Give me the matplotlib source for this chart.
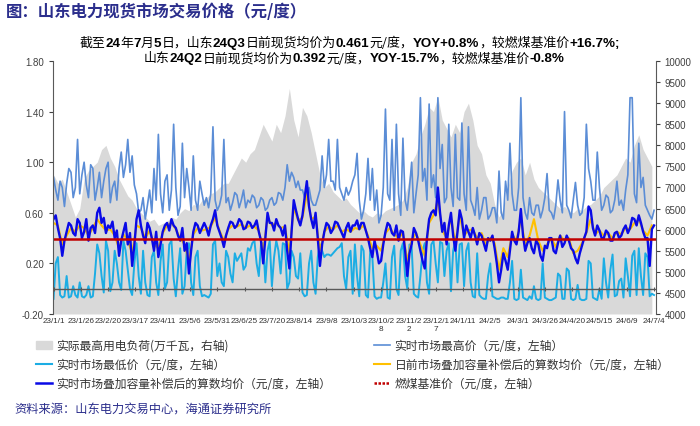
import matplotlib
matplotlib.use("Agg")
import matplotlib.pyplot as plt
import matplotlib.patches as mpatches
import numpy as np
import pandas as pd

plt.rcParams['font.family'] = ['Noto Sans CJK SC', 'DejaVu Sans']

start = pd.Timestamp('2023-01-01')
dates4 = pd.date_range(start, periods=138, freq='4D')   # load, day-ahead avg
dates2 = pd.date_range(start, periods=276, freq='2D')   # real-time prices

# actual peak load (10k kW, right axis), every 4 days
load = [7300, 7100, 7200, 6900, 6600, 6300, 6500, 7200, 7400, 7500, 7600, 7900, 8000, 7700, 7500,
        7200, 7000, 6800, 6700, 6500, 6400, 6300, 6200, 6250, 6100, 6150, 6200, 6300, 6250, 6400,
        6500, 6450, 6600, 6550, 6700,
        6750, 6850, 6900, 7000, 7100, 7100, 7300, 7500, 7700, 7600, 7800, 7900, 8200, 8500, 8300,
        8100, 8500, 8300, 8700, 9350, 8600, 8200, 8900, 8700, 8300, 7800, 7300, 7000, 7100, 6900,
        6800, 6700, 6750, 6600,
        6500, 6400, 6450, 6350, 6300, 6400, 6350, 6450, 6500, 6550, 6600, 6700, 7000, 7600, 7800,
        8200, 8500, 8900, 8800, 9150, 8600, 8400, 8200, 8500, 8300, 8800, 9000, 8600, 8000, 7800,
        7300, 7100, 6600, 6300, 6500,
        7000, 7400, 7600, 7700, 7300, 7600, 7200, 7000, 6900, 6800, 6700, 6600, 6500, 6550, 6450,
        6400, 6500, 6450, 6550, 6600, 6700, 6800, 7000, 7100, 7200, 7300, 7500, 7700, 7600, 8000,
        8250, 7900, 7700, 7500]

# day-ahead market avg incl. capacity compensation, every 4 days
da_avg = [0.52, 0.50, 0.35, 0.42, 0.48, 0.45, 0.50, 0.48, 0.42, 0.48, 0.55, 0.50, 0.46, 0.47, 0.42,
          0.32, 0.43, 0.38, 0.28, 0.50, 0.48, 0.40, 0.46, 0.35, 0.32, 0.44, 0.50, 0.52, 0.47, 0.40,
          0.35, 0.22, 0.43, 0.48, 0.46,
          0.47, 0.49, 0.56, 0.46, 0.38, 0.47, 0.50, 0.49, 0.51, 0.48, 0.50, 0.49, 0.46, 0.30, 0.56,
          0.50, 0.52, 0.48, 0.49, 0.28, 0.64, 0.54, 0.56, 0.75, 0.55, 0.57, 0.30, 0.45, 0.49, 0.47,
          0.50, 0.45, 0.47, 0.45,
          0.48, 0.47, 0.50, 0.42, 0.32, 0.34, 0.30, 0.44, 0.48, 0.43, 0.40, 0.44, 0.22, 0.38, 0.44,
          0.35, 0.26, 0.52, 0.58, 0.70, 0.46, 0.40, 0.56, 0.36, 0.58, 0.42, 0.46, 0.47, 0.40, 0.44,
          0.35, 0.40, 0.36, 0.15, 0.32,
          0.25, 0.43, 0.38, 0.55, 0.35, 0.42, 0.55, 0.38, 0.30, 0.35, 0.40, 0.33, 0.42, 0.38, 0.40,
          0.28, 0.30, 0.36, 0.44, 0.55, 0.43, 0.46, 0.42, 0.44, 0.40, 0.45, 0.43, 0.48, 0.47, 0.52,
          0.55, 0.46, 0.42, 0.50]

# real-time market highest price, every 2 days
rt_max = [0.88, 0.78, 0.70, 0.85, 0.80, 0.65, 0.83, 0.95, 0.92, 0.72, 0.80, 1.18, 0.75, 0.90,
          1.00, 0.82, 0.72, 0.98, 0.95, 0.70, 0.80, 0.92, 0.72, 0.85, 0.95, 1.00, 0.68, 0.80,
          0.85, 0.70, 0.95, 1.08, 0.88, 0.98, 1.18, 0.92, 1.05, 0.82, 0.75, 0.60, 0.62, 0.72,
          0.55, 0.66, 0.78, 0.60, 0.95, 0.70, 1.22, 0.75, 0.60, 0.85, 0.90, 0.62, 0.78, 1.30,
          0.80, 0.58, 0.65, 1.15, 0.72, 0.95, 0.80, 0.62, 1.05, 0.70, 0.62, 0.85, 0.75, 0.66,
          0.72, 0.64, 0.75, 1.28, 0.70, 0.62, 0.66, 0.74, 1.18, 0.68, 0.72, 0.62, 0.68, 0.76,
          0.74, 0.64, 0.70, 0.78, 0.64, 0.70, 0.68, 0.74, 0.72, 0.64, 0.66, 0.72, 0.70, 0.62,
          0.64, 0.70, 0.72, 0.66, 0.68, 0.76, 0.75, 0.70, 0.80, 0.98, 0.85, 0.92, 0.88, 0.80,
          0.85, 0.78, 0.78, 0.72, 0.75, 0.80, 0.70, 0.66, 0.66, 0.72, 0.78, 1.05, 0.80, 0.90,
          1.18, 0.85, 0.85, 0.78, 1.18, 0.80, 0.75, 0.70, 0.80, 0.74, 0.78, 0.85,
          0.90, 1.07, 0.70, 0.55, 0.62, 0.75, 1.03, 0.70, 0.95, 0.62, 0.78, 0.52, 0.58, 0.80,
          1.42, 0.75, 0.70, 1.18, 0.62, 1.30, 0.75, 0.58, 1.19, 0.70, 0.62, 0.80, 1.00, 0.60,
          0.75, 0.90, 1.51, 0.85, 0.95, 0.70, 1.46, 0.80, 0.90, 0.72, 1.51, 0.95, 1.14, 0.68,
          0.72, 1.30, 0.80, 0.65, 1.22, 0.72, 0.70, 1.31, 0.75, 0.62, 1.28, 0.70, 0.65, 0.58,
          0.80, 0.55, 0.62, 0.72, 0.72, 0.55, 0.58, 0.64, 0.64, 0.52, 0.93, 0.60, 0.55, 0.85,
          0.70, 1.15, 0.75, 0.62, 0.62, 0.80, 1.51, 0.72, 0.60, 0.55, 0.72, 0.60, 0.58, 0.66,
          0.66, 0.56, 0.62, 0.72, 0.91, 0.62, 0.60, 0.55, 0.66, 0.86, 0.70, 0.60, 1.40, 0.66,
          0.62, 0.56, 0.70, 0.84, 0.66, 0.58, 0.60, 0.72, 1.30, 0.95, 0.85, 0.70, 0.70, 1.08,
          0.80, 0.62, 0.66, 0.74, 0.72, 0.60, 0.62, 0.70, 0.85, 0.66, 0.70, 0.62, 0.78, 0.90,
          1.51, 1.51, 0.75, 0.68, 1.15, 0.80, 0.88, 0.66, 0.62, 0.58, 0.55, 0.62]

# real-time market lowest price, every 2 days
rt_min = [-0.08, 0.20, 0.25, -0.05, -0.07, -0.06, 0.10, -0.07, -0.06, 0.02, -0.05, -0.07, 0.05, -0.06,
          -0.07, -0.05, 0.02, -0.07, -0.06, 0.12, 0.35, 0.28, 0.10, -0.03, 0.38, 0.30, -0.02, 0.05,
          0.30, 0.20, 0.05, -0.01, 0.38, 0.30, 0.15, 0.00, -0.05, 0.20, 0.36, 0.10, -0.04, 0.30,
          0.05, -0.05, -0.06, 0.25, 0.30, 0.05, -0.05, 0.22, 0.35, 0.00, 0.05, 0.35, 0.38, 0.08,
          -0.06, 0.15, 0.32, -0.04, 0.02, 0.30, 0.36, 0.05, -0.05, 0.25, 0.30, 0.02, -0.06, -0.05,
          -0.06, -0.07, -0.04, 0.35, 0.38, 0.10, 0.20, 0.05, 0.02, 0.30, 0.25, 0.12, 0.05, 0.28,
          0.22, 0.25, 0.28, 0.15, 0.18, 0.32, 0.30, 0.36, 0.38, 0.20, 0.10, 0.35, 0.36, 0.05,
          0.30, 0.38, 0.02, 0.25, 0.38, 0.30, 0.12, 0.36, 0.35, 0.00, 0.05, 0.30, 0.25, 0.10,
          0.08, 0.28, -0.03, -0.06, -0.05, 0.20, 0.30, 0.05, -0.04, 0.25, 0.35, 0.30, 0.25, 0.27,
          0.27, 0.26, 0.28, 0.30, 0.32, 0.33, 0.36, 0.10, 0.00, 0.25, 0.30, -0.04,
          0.35, 0.10, -0.06, 0.34, 0.30, -0.05, -0.07, 0.30, 0.25, -0.06, -0.08, -0.07, -0.07, 0.05,
          0.20, -0.07, -0.08, 0.25, 0.34, 0.00, -0.05, 0.30, 0.36, 0.10, 0.00, 0.35, 0.33, -0.04,
          -0.06, -0.07, 0.10, 0.30, 0.36, 0.05, -0.04, 0.35, 0.38, 0.20, 0.05, 0.37, 0.36, 0.10,
          0.30, 0.36, -0.02, 0.30, 0.38, 0.05, 0.35, 0.36, 0.02, 0.30, 0.36, 0.05, -0.06, -0.07,
          0.28, -0.05, -0.07, -0.08, -0.08, 0.10, 0.20, -0.06, -0.07, -0.08, -0.08, -0.07, -0.07, -0.08,
          -0.08, 0.05, 0.22, -0.08, -0.09, -0.08, 0.15, -0.07, -0.08, -0.09, -0.06, -0.08, 0.02, -0.08,
          -0.09, -0.08, 0.20, -0.07, -0.08, -0.09, -0.09, -0.08, -0.07, 0.12, 0.10, -0.08, -0.08, 0.16,
          0.14, -0.08, -0.09, -0.08, 0.03, -0.08, -0.09, -0.09, -0.08, 0.22, 0.20, -0.07, -0.08, -0.09,
          0.00, -0.08, 0.24, 0.05, -0.07, 0.15, 0.27, -0.06, -0.05, 0.06, 0.08, -0.07, 0.24, 0.10,
          -0.06, 0.26, 0.30, -0.05, 0.32, 0.10, -0.05, 0.28, 0.25, -0.06, -0.04, -0.05]

# real-time market avg incl. capacity compensation, every 2 days
rt_avg = [0.55, 0.58, 0.48, 0.40, 0.26, 0.38, 0.45, 0.52, 0.50, 0.44, 0.42, 0.55, 0.52, 0.40,
          0.45, 0.55, 0.38, 0.48, 0.50, 0.44, 0.60, 0.64, 0.52, 0.56, 0.44, 0.50, 0.48, 0.53,
          0.40, 0.46, 0.26, 0.38, 0.45, 0.52, 0.35, 0.44, 0.18, 0.34, 0.55, 0.62, 0.50, 0.42,
          0.36, 0.52, 0.48, 0.40, 0.30, 0.45, 0.25, 0.35, 0.45, 0.50, 0.52, 0.46, 0.55, 0.50,
          0.48, 0.42, 0.38, 0.48, 0.30, 0.36, 0.12, 0.30, 0.45, 0.52, 0.50, 0.44, 0.48, 0.52,
          0.48, 0.42, 0.50, 0.55, 0.62, 0.50, 0.45, 0.40, 0.33, 0.42, 0.48, 0.53, 0.52, 0.48,
          0.50, 0.55, 0.53, 0.47, 0.48, 0.53, 0.52, 0.48, 0.50, 0.54, 0.45, 0.38, 0.20, 0.40,
          0.60, 0.52, 0.52, 0.46, 0.55, 0.50, 0.48, 0.42, 0.50, 0.30, 0.16, 0.45, 0.70, 0.62,
          0.55, 0.50, 0.58, 0.72, 0.85, 0.65, 0.55, 0.48, 0.60, 0.40, 0.18, 0.35, 0.45, 0.52,
          0.50, 0.44, 0.47, 0.53, 0.52, 0.48, 0.44, 0.40, 0.48, 0.52, 0.45, 0.50,
          0.50, 0.54, 0.47, 0.52, 0.52, 0.46, 0.40, 0.32, 0.25, 0.38, 0.30, 0.20, 0.22, 0.35,
          0.45, 0.52, 0.50, 0.44, 0.42, 0.50, 0.38, 0.46, 0.45, 0.30, 0.10, 0.28, 0.35, 0.48,
          0.44, 0.38, 0.30, 0.22, 0.16, 0.40, 0.55, 0.60, 0.62, 0.58, 0.80, 0.60, 0.45, 0.52,
          0.35, 0.50, 0.60, 0.42, 0.30, 0.45, 0.62, 0.55, 0.40, 0.50, 0.45, 0.40, 0.48, 0.42,
          0.35, 0.44, 0.42, 0.36, 0.30, 0.40, 0.38, 0.42, 0.32, 0.20, 0.05, 0.15, 0.28, 0.22,
          0.15, 0.30, 0.45, 0.38, 0.35, 0.45, 0.63, 0.42, 0.30, 0.36, 0.40, 0.32, 0.28, 0.38,
          0.35, 0.26, 0.22, 0.34, 0.32, 0.40, 0.40, 0.30, 0.28, 0.36, 0.42, 0.33, 0.36, 0.42,
          0.38, 0.32, 0.30, 0.24, 0.20, 0.28, 0.34, 0.40, 0.45, 0.65, 0.62, 0.48, 0.42, 0.50,
          0.46, 0.40, 0.40, 0.46, 0.44, 0.38, 0.38, 0.44, 0.45, 0.40, 0.42, 0.47, 0.50, 0.44,
          0.48, 0.56, 0.55, 0.50, 0.58, 0.52, 0.45, 0.40, 0.40, 0.18, 0.47, 0.50]

coal_base = 0.3949

x4 = np.array((dates4 - start).days)
x2 = np.array((dates2 - start).days)

fig = plt.figure(figsize=(7, 4.27), dpi=100)
ax = fig.add_axes([0.0757, 0.2623, 0.861, 0.5925])
ax2 = ax.twinx()
ax.set_zorder(ax2.get_zorder() + 1)
ax.patch.set_visible(False)

ax2.fill_between(x4, 4000, load, color='#D9D9D9', lw=0)
ax2.set_ylim(4000, 10000)
ax2.set_yticks(np.arange(4000, 10001, 500))

ax.plot(x2, rt_max, color='#5B8DD6', lw=1.2)
ax.plot(x2, rt_min, color='#1CADE4', lw=1.4)
ax.plot(x4, da_avg, color='#FFC000', lw=1.5)
ax.plot(x2, rt_avg, color='#0A0AE6', lw=1.7)
ax.axhline(coal_base, color='#C00000', lw=1.8)
ax.axhline(0, color='#595959', lw=1.0)

ax.set_ylim(-0.2, 1.8)
ax.set_yticks(np.arange(-0.2, 1.81, 0.4))
ax.yaxis.set_major_formatter(matplotlib.ticker.FormatStrFormatter('%.2f'))
ax.set_xlim(-0.5, 551.5)

# x labels every 25 days
tick_dates = pd.date_range('2023-01-01', '2024-07-04', freq='25D')
tick_pos = np.array((tick_dates - start).days)
labels = []
for d in tick_dates:
    s = f"{d.year % 100}/{d.month}/{d.day}"
    if len(s) > 7:
        s = s[:7] + "\n" + s[7:]
    labels.append(s)
ax.set_xticks(tick_pos)
ax.set_xticklabels(labels, fontsize=5.9, family='Liberation Sans', color='#333333', linespacing=1.15)
ax.tick_params(axis='x', length=0, pad=2)
ax.plot(tick_pos, np.zeros(len(tick_pos)), ls='none', marker='|', ms=3, color='#595959', mew=0.8)

for a in (ax, ax2):
    for s in ('top', 'bottom'):
        a.spines[s].set_visible(False)
ax.spines['right'].set_visible(False)
ax2.spines['left'].set_visible(False)
ax.spines['left'].set_color('#595959')
ax2.spines['right'].set_color('#595959')
ax.tick_params(axis='y', labelsize=7, colors='#404040', length=3, width=0.8)
ax2.tick_params(axis='y', labelsize=7, colors='#404040', length=3, width=0.8)
for lab in ax.get_yticklabels() + ax2.get_yticklabels():
    lab.set_family('Liberation Sans')

fig.text(0.008, 0.972, '图：山东电力现货市场交易价格（元/度）', fontsize=11.8, fontweight='bold',
         color='#2B2E8C', va='center')

# note lines: numbers bold, chinese regular
note1 = [('截至', 0), ('24', 1), ('年', 0), ('7', 1), ('月', 0), ('5', 1), ('日，山东', 0), ('24Q3', 1),
         ('日前现货均价为', 0), ('0.461', 1), ('元/度，', 0), ('YOY+0.8%', 1), ('，较燃煤基准价', 0),
         ('+16.7%;', 1)]
note2 = [('山东', 0), ('24Q2', 1), ('日前现货均价为', 0), ('0.392', 1), ('元/度，', 0), ('YOY-15.7%', 1),
         ('，较燃煤基准价', 0), ('-0.8%', 1)]


def rich_line(pieces, xc, y):
    r = fig.canvas.get_renderer()
    items = []
    for s, b in pieces:
        if b:
            t = fig.text(0, y, s, fontsize=9.6, fontweight='bold', va='center',
                         family=['Liberation Sans', 'Noto Sans CJK SC'])
        else:
            t = fig.text(0, y, s, fontsize=9.3, va='center', family=['Noto Sans CJK SC'])
        items.append((t, t.get_window_extent(r).width))
    total = sum(w for _, w in items)
    W = fig.bbox.width
    xpos = xc * W - total / 2
    for t, w in items:
        t.set_x(xpos / W)
        xpos += w


rich_line(note1, 0.500, 0.898)
rich_line(note2, 0.506, 0.862)

handles = [
    mpatches.Patch(color='#D9D9D9'),
    plt.Line2D([], [], color='#1CADE4', lw=1.5),
    plt.Line2D([], [], color='#0A0AE6', lw=1.8),
    plt.Line2D([], [], color='#5B8DD6', lw=1.2),
    plt.Line2D([], [], color='#FFC000', lw=1.5),
    plt.Line2D([], [], color='#C00000', lw=1.8, ls=(0, (1, 0.6))),
]
names = [
    '实际最高用电负荷(万千瓦，右轴)',
    '实时市场最低价（元/度，左轴）',
    '实时市场叠加容量补偿后的算数均价（元/度，左轴）',
    '实时市场最高价（元/度，左轴）',
    '日前市场叠加容量补偿后的算数均价（元/度，左轴）',
    '燃煤基准价（元/度，左轴）',
]
fig.legend(handles, names, ncol=2, loc='upper left', bbox_to_anchor=(0.036, 0.229),
           frameon=False, fontsize=8.5, handlelength=1.4, handletextpad=0.35,
           columnspacing=3.6, labelspacing=0.5, labelcolor='#333333')

fig.text(0.02, 0.04, '资料来源：山东电力交易中心，海通证券研究所', fontsize=8.8, color='#2B2E8C',
         va='center')

fig.savefig('out.png', dpi=100)
